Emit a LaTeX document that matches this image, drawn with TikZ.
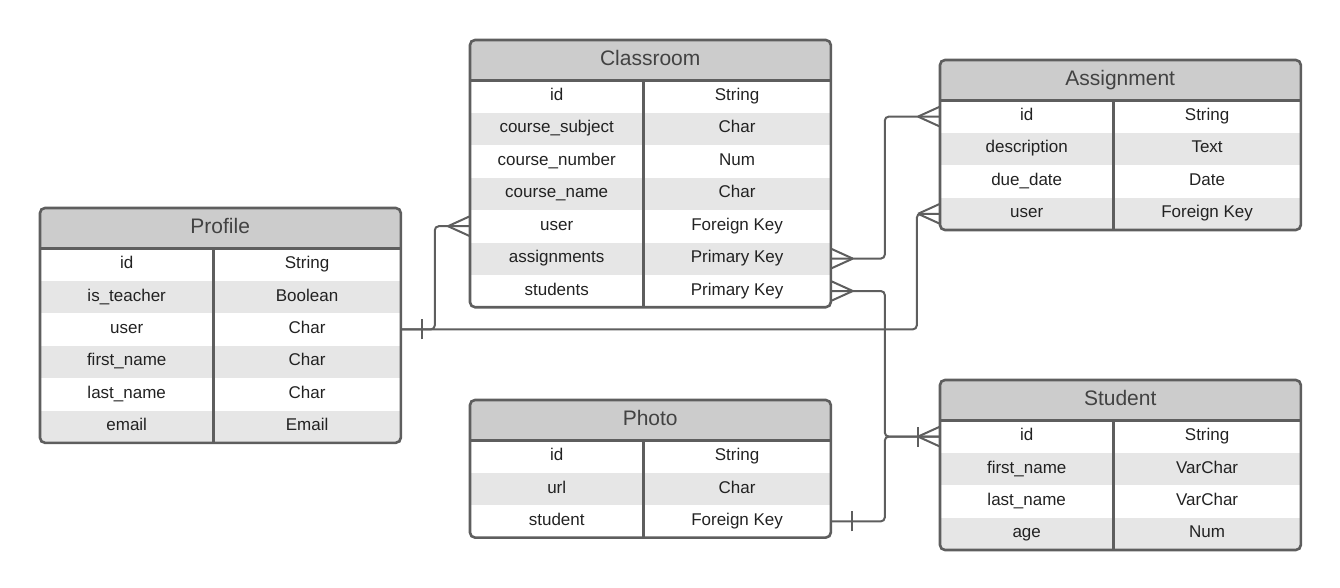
\documentclass[tikz,border=0pt]{standalone}
\usepackage{fontspec}
\setmainfont{Liberation Sans}
\usetikzlibrary{positioning}
\definecolor{edgegray}{HTML}{5E5E5E}
\definecolor{hdrgray}{HTML}{CCCCCC}
\definecolor{rowgray}{HTML}{E6E6E6}
\definecolor{txtdark}{HTML}{222222}
\tikzset{%
hdr/.style={fill=hdrgray, text=edgegray!70!black, inner sep=0, minimum width=360pt, minimum height=40pt, text height=15pt, text depth=5pt, anchor=north west, font=\fontsize{21}{24}\selectfont},
fld/.style={inner sep=0, minimum width=173pt, minimum height=32pt, text height=12pt, text depth=4pt, text=txtdark, font=\fontsize{17}{20}\selectfont},
typ/.style={fld, minimum width=187pt},
shade/.style={fill=rowgray},
box/.style={draw=edgegray, line width=2.6pt, rounded corners=5pt},
rel/.style={draw=edgegray, line width=2pt, rounded corners=4pt},
many/.pic={\draw[rel] (-22pt,0) -- (0,10pt) (-22pt,0) -- (0,-10pt);},
one/.pic={\draw[rel] (0,-10pt) -- (0,10pt);}
}
\begin{document}
\begin{tikzpicture}[x=1pt, y=-1pt]
		\useasboundingbox (0,0) rectangle (1340,588);

		% Profile
		\node[hdr] (pro) at (40,208) {Profile};
		\node[fld, below right=0pt of pro.south west] (pro1) {id};  \node[typ, right=0pt of pro1] (pro1t) {String};
		\node[fld, shade, below=0pt of pro1] (pro2) {is\_teacher};  \node[typ, shade, right=0pt of pro2] (pro2t) {Boolean};
		\node[fld, below=0pt of pro2] (pro3) {user};  \node[typ, right=0pt of pro3] (pro3t) {Char};
		\node[fld, shade, below=0pt of pro3] (pro4) {first\_name};  \node[typ, shade, right=0pt of pro4] (pro4t) {Char};
		\node[fld, below=0pt of pro4] (pro5) {last\_name};  \node[typ, right=0pt of pro5] (pro5t) {Char};
		\node[fld, shade, below=0pt of pro5] (pro6) {email};  \node[typ, shade, right=0pt of pro6] (pro6t) {Email};

		% Classroom
		\node[hdr] (cls) at (470,40) {Classroom};
		\node[fld, below right=0pt of cls.south west] (cls1) {id};  \node[typ, right=0pt of cls1] (cls1t) {String};
		\node[fld, shade, below=0pt of cls1] (cls2) {course\_subject};  \node[typ, shade, right=0pt of cls2] (cls2t) {Char};
		\node[fld, below=0pt of cls2] (cls3) {course\_number};  \node[typ, right=0pt of cls3] (cls3t) {Num};
		\node[fld, shade, below=0pt of cls3] (cls4) {course\_name};  \node[typ, shade, right=0pt of cls4] (cls4t) {Char};
		\node[fld, below=0pt of cls4] (cls5) {user};  \node[typ, right=0pt of cls5] (cls5t) {Foreign Key};
		\node[fld, shade, below=0pt of cls5] (cls6) {assignments};  \node[typ, shade, right=0pt of cls6] (cls6t) {Primary Key};
		\node[fld, below=0pt of cls6] (cls7) {students};  \node[typ, right=0pt of cls7] (cls7t) {Primary Key};

		% Assignment
		\node[hdr] (asg) at (940,60) {Assignment};
		\node[fld, below right=0pt of asg.south west] (asg1) {id};  \node[typ, right=0pt of asg1] (asg1t) {String};
		\node[fld, shade, below=0pt of asg1] (asg2) {description};  \node[typ, shade, right=0pt of asg2] (asg2t) {Text};
		\node[fld, below=0pt of asg2] (asg3) {due\_date};  \node[typ, right=0pt of asg3] (asg3t) {Date};
		\node[fld, shade, below=0pt of asg3] (asg4) {user};  \node[typ, shade, right=0pt of asg4] (asg4t) {Foreign Key};

		% Photo
		\node[hdr] (pho) at (470,400) {Photo};
		\node[fld, below right=0pt of pho.south west] (pho1) {id};  \node[typ, right=0pt of pho1] (pho1t) {String};
		\node[fld, shade, below=0pt of pho1] (pho2) {url};  \node[typ, shade, right=0pt of pho2] (pho2t) {Char};
		\node[fld, below=0pt of pho2] (pho3) {student};  \node[typ, right=0pt of pho3] (pho3t) {Foreign Key};

		% Student
		\node[hdr] (stu) at (940,380) {Student};
		\node[fld, below right=0pt of stu.south west] (stu1) {id};  \node[typ, right=0pt of stu1] (stu1t) {String};
		\node[fld, shade, below=0pt of stu1] (stu2) {first\_name};  \node[typ, shade, right=0pt of stu2] (stu2t) {VarChar};
		\node[fld, below=0pt of stu2] (stu3) {last\_name};  \node[typ, right=0pt of stu3] (stu3t) {VarChar};
		\node[fld, shade, below=0pt of stu3] (stu4) {age};  \node[typ, shade, right=0pt of stu4] (stu4t) {Num};

		% frames
		\foreach \t/\n in {pro/6, cls/7, asg/4, pho/3, stu/4} {
			\draw[box] (\t.north west) rectangle (\t\n t.south east);
			\draw[box] (\t.south west) -- (\t.south east);
			\draw[box] (\t1t.north west) -- (\t\n t.south west);
		}

		% relations
		\draw[rel] (pro3t.east) -- ++(516pt,0) |- (asg4.west);
		\draw[rel] (pro3t.east) -- ++(34pt,0) |- (cls5.west);
		\draw[rel] (cls6t.east) -- ++(54pt,0) |- (asg1.west);
		\draw[rel] (cls7t.east) -- ++(54pt,0) |- (stu1.west);
		\draw[rel] (pho3t.east) -- ++(54pt,0) |- (stu1.west);
		\path (pro3t.east) ++(21pt,0) pic {one};
		\path (pho3t.east) ++(21pt,0) pic {one};
		\path (stu1.west) ++(-22pt,0) pic {one};
		\path (cls5.west) pic {many};
		\path (asg1.west) pic {many};
		\path (asg4.west) pic {many};
		\path (stu1.west) pic {many};
		\path (cls6t.east) pic[rotate=180] {many};
		\path (cls7t.east) pic[rotate=180] {many};
	\end{tikzpicture}
\end{document}
